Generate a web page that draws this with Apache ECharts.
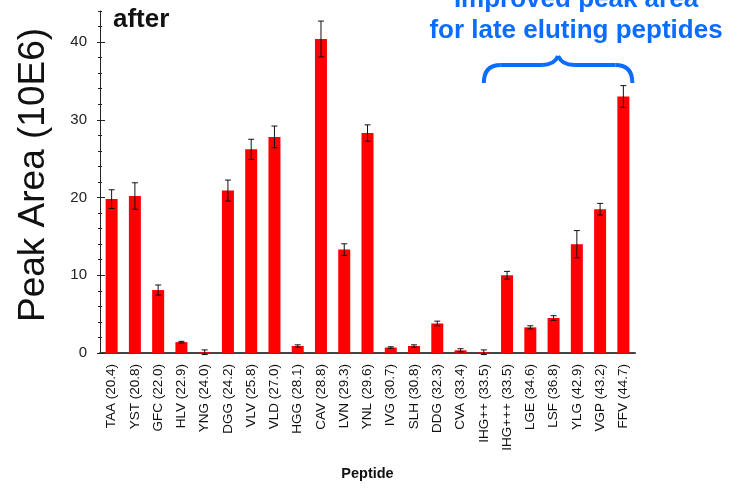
<!DOCTYPE html>
<html>
<head>
<meta charset="utf-8">
<script src="https://cdn.jsdelivr.net/npm/echarts@6/dist/echarts.min.js"></script>
<style>
html,body{margin:0;padding:0;background:#fff;}
#chart{width:749px;height:490px;}
</style>
</head>
<body>
<div id="chart"></div>
<script>
const categories = ['TAA (20.4)','YST (20.8)','GFC (22.0)','HLV (22.9)','YNG (24.0)','DGG (24.2)','VLV (25.8)','VLD (27.0)','HGG (28.1)','CAV (28.8)','LVN (29.3)','YNL (29.6)','IVG (30.7)','SLH (30.8)','DDG (32.3)','CVA (33.4)','IHG++ (33.5)','IHG+++ (33.5)','LGE (34.6)','LSF (36.8)','YLG (42.9)','VGP (43.2)','FFV (44.7)'];
const peakArea = [19.8, 20.2, 8.1, 1.4, 0.1, 20.9, 26.2, 27.8, 0.9, 40.4, 13.3, 28.3, 0.7, 0.9, 3.8, 0.35, 0.1, 10.0, 3.3, 4.5, 14.0, 18.5, 33.0];
const peakErr  = [1.2, 1.7, 0.65, 0.1, 0.3, 1.35, 1.3, 1.4, 0.15, 2.3, 0.75, 1.05, 0.1, 0.15, 0.3, 0.2, 0.3, 0.5, 0.2, 0.3, 1.75, 0.75, 1.4];
const majorTicks = [0, 10, 20, 30, 40];
const yMax = 44;
const braceFrom = 'IHG++ (33.5)';
const braceTo = 'FFV (44.7)';

const errData = peakArea.map((v, i) => [i, v - peakErr[i], v + peakErr[i]]);

const chart = echarts.init(document.getElementById('chart'));
const fontFam = 'Liberation Sans, Arial, sans-serif';
const blue = '#0b6cff';

function hiddenY(extra) {
  return Object.assign({
    type: 'value', min: 0, max: yMax, position: 'left',
    axisLine: {show: false}, axisLabel: {show: false}, splitLine: {show: false}
  }, extra);
}

chart.setOption({
  animation: false,
  grid: {left: 100, right: 114, top: 11, bottom: 137, containLabel: false, outerBoundsMode: 'none'},
  xAxis: [{
    type: 'category', data: categories,
    axisLine: {lineStyle: {color: '#444', width: 2}},
    axisTick: {alignWithLabel: true, length: 7, lineStyle: {color: '#222'}},
    axisLabel: {interval: 0, rotate: 90, fontSize: 13.5, color: '#111', fontFamily: fontFam, margin: 11},
    name: 'Peptide', nameLocation: 'middle', nameGap: 113,
    nameTextStyle: {fontWeight: 'bold', fontSize: 14.5, color: '#111', fontFamily: fontFam}
  }, {
    type: 'category', data: categories, position: 'bottom',
    axisLine: {show: false},
    axisTick: {alignWithLabel: true, inside: true, length: 6, lineStyle: {color: '#222'}},
    axisLabel: {show: false}
  }],
  yAxis: [{
    type: 'value', min: 0, max: yMax, interval: 10,
    axisLine: {show: true, lineStyle: {color: '#222', width: 1}},
    axisTick: {show: true, length: 3, customValues: majorTicks, lineStyle: {color: '#222'}},
    axisLabel: {fontSize: 15, color: '#222', fontFamily: fontFam, margin: 13, customValues: majorTicks},
    splitLine: {show: false}
  },
  hiddenY({interval: 10, axisTick: {show: true, inside: true, length: 5, customValues: majorTicks, lineStyle: {color: '#222'}}}),
  hiddenY({interval: 2, axisTick: {show: true, inside: true, length: 2, lineStyle: {color: '#222'}}}),
  hiddenY({interval: 2, axisTick: {show: true, inside: false, length: 2, lineStyle: {color: '#222'}}})
  ],
  series: [{
    type: 'bar', data: peakArea, barWidth: 12,
    itemStyle: {color: '#ff0000'}, z: 2
  }, {
    type: 'custom', data: errData, z: 5,
    renderItem: function (params, api) {
      const i = api.value(0);
      const lo = api.coord([i, api.value(1)]);
      const hi = api.coord([i, api.value(2)]);
      const hw = 3;
      const st = {stroke: '#111', lineWidth: 1};
      return {type: 'group', children: [
        {type: 'line', shape: {x1: lo[0], y1: lo[1], x2: hi[0], y2: hi[1]}, style: st},
        {type: 'line', shape: {x1: lo[0] - hw, y1: lo[1], x2: lo[0] + hw, y2: lo[1]}, style: st},
        {type: 'line', shape: {x1: hi[0] - hw, y1: hi[1], x2: hi[0] + hw, y2: hi[1]}, style: st}
      ]};
    }
  }]
});

const xa = chart.convertToPixel({xAxisIndex: 0}, braceFrom);
const xb = chart.convertToPixel({xAxisIndex: 0}, braceTo) + 9;
const yb = 83, yl = 65, yp = 56;
const xc = (xa + xb) / 2;
const bs = {stroke: blue, lineWidth: 4, fill: null};
function qc(x1, y1, cx, cy, x2, y2) {
  return {type: 'bezierCurve', shape: {x1: x1, y1: y1, cpx1: cx, cpy1: cy, x2: x2, y2: y2}, style: bs};
}
function ln(x1, y1, x2, y2) {
  return {type: 'line', shape: {x1: x1, y1: y1, x2: x2, y2: y2}, style: bs};
}

chart.setOption({
  graphic: [
    {type: 'text', x: 34, y: 175, rotation: Math.PI / 2,
     style: {text: 'Peak Area (10E6)', fontSize: 37, fontFamily: fontFam, fill: '#111', align: 'center', verticalAlign: 'middle'}},
    {type: 'text', x: 113, y: 20,
     style: {text: 'after', fontSize: 26, fontWeight: 'bold', fontFamily: fontFam, fill: '#111', align: 'left', verticalAlign: 'middle'}},
    {type: 'text', x: 576, y: 0,
     style: {text: 'Improved peak area', fontSize: 26, fontWeight: 'bold', fontFamily: fontFam, fill: blue, align: 'center', verticalAlign: 'middle'}},
    {type: 'text', x: 576, y: 31,
     style: {text: 'for late eluting peptides', fontSize: 26, fontWeight: 'bold', fontFamily: fontFam, fill: blue, align: 'center', verticalAlign: 'middle'}},
    qc(xa, yb, xa, yl, xa + 17, yl),
    ln(xa + 17, yl, xc - 16, yl),
    qc(xc - 16, yl, xc - 4, yl, xc, yp),
    qc(xc, yp, xc + 4, yl, xc + 16, yl),
    ln(xc + 16, yl, xb - 17, yl),
    qc(xb - 17, yl, xb, yl, xb, yb)
  ]
});
</script>
</body>
</html>
